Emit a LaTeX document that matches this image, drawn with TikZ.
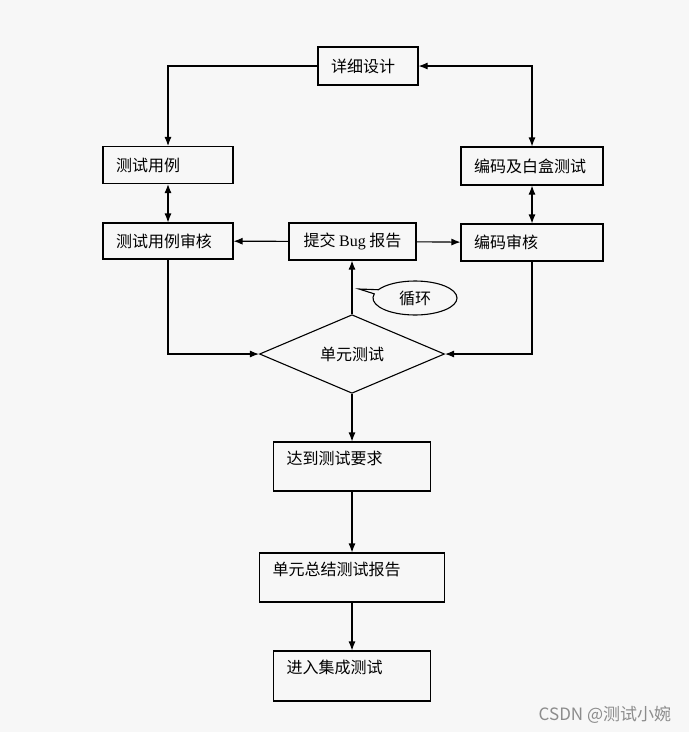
\documentclass[tikz,border=0pt]{standalone}
\usepackage{fontspec}
\setmainfont{Noto Sans CJK SC}
\newfontfamily\bugfont{Liberation Serif}
\usetikzlibrary{arrows.meta,shapes.geometric,shapes.callouts}
\begin{document}
\begin{tikzpicture}[x=1pt,y=-1pt,line width=1.1pt,
	>={Latex[length=9pt,width=7pt]},
	every node/.style={font=\fontsize{16}{19}\selectfont},
	box/.style={draw,rectangle,minimum height=37pt,inner xsep=13pt,align=left,text width=#1},
	tallbox/.style={box=#1,text height=15pt,text depth=19pt,inner ysep=7.5pt},
	decision/.style={draw,diamond,minimum width=185pt,minimum height=73pt,inner sep=0pt},
	bubble/.style={draw,ellipse callout,minimum width=84pt,minimum height=34pt,inner sep=0pt}]
	
	\fill[white!97!black] (0,0) rectangle (689,732);
	
	\node[box=74pt,minimum height=38pt](design) at (368,66) {详细设计};
	\node[box=104pt](cases) at (168,165) {测试用例};
	\node[box=116pt,minimum height=38pt](coding) at (532,166) {编码及白盒测试};
	\node[box=104pt,minimum height=36pt](review) at (168,241) {测试用例审核};
	\node[draw,rectangle,minimum width=127pt,minimum height=37pt](bug) at (352.5,241.5) {提交 {\bugfont Bug} 报告};
	\node[box=116pt](codereview) at (532,242.5) {编码审核};
	\node[decision](unit) at (352,354) {单元测试};
	
	\coordinate (tip) at (359,289);
	\node[bubble,callout absolute pointer={(tip)}](loop) at (415,298) {循环};
	
	\node[tallbox=131pt](reach) at (352,466.5) {达到测试要求};
	\node[tallbox=159pt](summary) at (352,577.5) {单元总结测试报告};
	\node[tallbox=131pt,text depth=20pt](integ) at (352,676) {进入集成测试};
	
	\draw[->]   (design.west) -| (cases.north);
	\draw[<->]  (design.east) -| (coding.north);
	\draw[<->]  (cases) -- (review);
	\draw[<->]  (coding) -- (codereview);
	\draw[->]   (bug) -- (review);
	\draw[->]   (bug) -- (codereview);
	\draw[->]   (review.south) |- (unit.west);
	\draw[->]   (codereview.south) |- (unit.east);
	\draw[->]   (unit.north) -- (unit.north |- bug.south);
	\draw[->]   (unit) -- (reach);
	\draw[->]   (reach) -- (summary);
	\draw[->]   (summary) -- (integ);
	
	\node[font=\fontsize{17}{20}\selectfont,text=black!45,anchor=east](mark) at (675,715) {CSDN @测试小婉};
	
\end{tikzpicture}
\end{document}
